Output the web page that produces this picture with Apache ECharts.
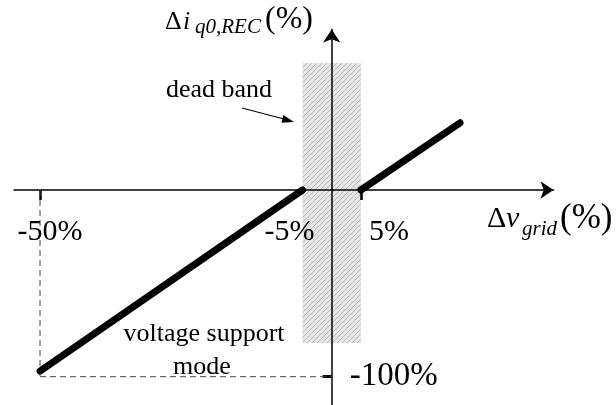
<!DOCTYPE html>
<html><head><meta charset="utf-8">
<script src="https://cdn.jsdelivr.net/npm/echarts@6/dist/echarts.min.js"></script>
<style>html,body{margin:0;padding:0;background:#fff}#c{width:616px;height:405px}</style>
</head><body><div id="c"></div>
<script>
// ---- data ----
const negSegment = [[-50, -97], [-5, 0]];
const posSegment = [[5, 0], [22, 36]];
const deadBandX = [-5, 5];
const deadBandY = [-82, 68];
const guideVertical = [[-50, 0], [-50, -100]];
const guideHorizontal = [[-50, -100], [0, -100]];
const xTickValues = [-50, -5, 5];
const xTickLabels = ['-50%', '-5%', '5%'];
const xTickMarks = [-50, 5];
const yTickValues = [-100];
const yTickLabels = ['-100%'];

// ---- label offsets (style, not data) ----
const xLabelOffsets = [[10, 42], [-13, 42], [28, 42]];
const yLabelOffsets = [[62, 0]];

// ---- hatch pattern ----
const pc = document.createElement('canvas');
pc.width = 5; pc.height = 5;
const g = pc.getContext('2d');
g.fillStyle = '#e4e4e4'; g.fillRect(0, 0, 5, 5);
g.strokeStyle = '#c0c0c0'; g.lineWidth = 1;
g.beginPath(); g.moveTo(0, 5); g.lineTo(5, 0); g.moveTo(-1, 1); g.lineTo(1, -1); g.moveTo(4, 6); g.lineTo(6, 4); g.stroke();

const F = '"Liberation Serif", "Times New Roman", serif';
const chart = echarts.init(document.getElementById('c'), null, {renderer: 'canvas'});
function txt(text, x, y, size, opts) {
  opts = opts || {};
  return {type: 'text', z: 100, style: {text: text, x: x, y: y,
    font: (opts.italic ? 'italic ' : '') + size + 'px ' + F, fill: '#000',
    align: opts.align || 'left', verticalAlign: 'middle'}};
}
const xLabelData = xTickValues.map(function (v, i) {
  return {value: [v, 0], label: {formatter: xTickLabels[i], offset: xLabelOffsets[i]}};
});
const yLabelData = yTickValues.map(function (v, i) {
  return {value: [0, v], label: {formatter: yTickLabels[i], offset: yLabelOffsets[i], fontSize: 33}};
});
chart.setOption({
  animation: false,
  backgroundColor: '#fff',
  grid: {left: 14, right: 62.5, top: 29.5, bottom: 0, containLabel: false, outerBoundsMode: 'none'},
  xAxis: {
    type: 'value', min: -54.46, max: 38.02,
    splitLine: {show: false},
    axisLine: {onZero: true, lineStyle: {color: '#000', width: 1.5}, symbol: ['none', 'arrow'], symbolSize: [13, 13]},
    axisTick: {show: true, customValues: xTickMarks, length: 10, inside: false, lineStyle: {color: '#000', width: 2.5}},
    axisLabel: {show: false}
  },
  yAxis: {
    type: 'value', min: -115.16, max: 85.97,
    splitLine: {show: false},
    axisLine: {onZero: true, lineStyle: {color: '#000', width: 1.5}, symbol: ['none', 'arrow'], symbolSize: [13, 13]},
    axisTick: {show: true, customValues: yTickValues, length: 9, inside: false, lineStyle: {color: '#000', width: 3}},
    axisLabel: {show: false}
  },
  series: [
    {type: 'line', data: guideVertical, symbol: 'none', silent: true, z: 1,
     lineStyle: {color: '#444', width: 1, type: [6, 4]}},
    {type: 'line', data: guideHorizontal, symbol: 'none', silent: true, z: 1,
     lineStyle: {color: '#444', width: 1, type: [6, 4]}},
    {type: 'line', data: negSegment, symbol: 'none', silent: true, z: 5,
     lineStyle: {color: '#000', width: 7, cap: 'round'},
     markArea: {silent: true, z: 0, itemStyle: {color: {image: pc, repeat: 'repeat'}},
       data: [[{xAxis: deadBandX[0], yAxis: deadBandY[0]}, {xAxis: deadBandX[1], yAxis: deadBandY[1]}]]}},
    {type: 'line', data: posSegment, symbol: 'none', silent: true, z: 5,
     lineStyle: {color: '#000', width: 7, cap: 'round'}},
    {type: 'scatter', data: xLabelData.concat(yLabelData), symbolSize: 1, silent: true, z: 10,
     itemStyle: {color: 'rgba(0,0,0,0)'},
     label: {show: true, position: 'inside', color: '#000', opacity: 1, textBorderWidth: 0,
             textBorderColor: 'transparent', fontSize: 30, fontFamily: F}}
  ],
  graphic: [
    txt('Δ', 165, 22, 26),
    txt('i', 183, 22, 26, {italic: true}),
    txt('q0,REC', 195, 27, 21, {italic: true}),
    txt('(%)', 265, 20, 32),
    txt('Δ', 487, 219, 30),
    txt('v', 506, 219, 30, {italic: true}),
    txt('grid', 522, 229, 21, {italic: true}),
    txt('(%)', 560, 219, 35),
    txt('dead band', 219, 90, 26, {align: 'center'}),
    txt('voltage support', 204, 334, 26, {align: 'center'}),
    txt('mode', 202, 367, 26, {align: 'center'}),
    {type: 'line', z: 100, shape: {x1: 242, y1: 108, x2: 284, y2: 119}, style: {stroke: '#000', lineWidth: 1.2}},
    {type: 'polygon', z: 100, shape: {points: [[294, 122], [281.4, 122.8], [283.4, 115.0]]}, style: {fill: '#000'}}
  ]
});
</script></body></html>
